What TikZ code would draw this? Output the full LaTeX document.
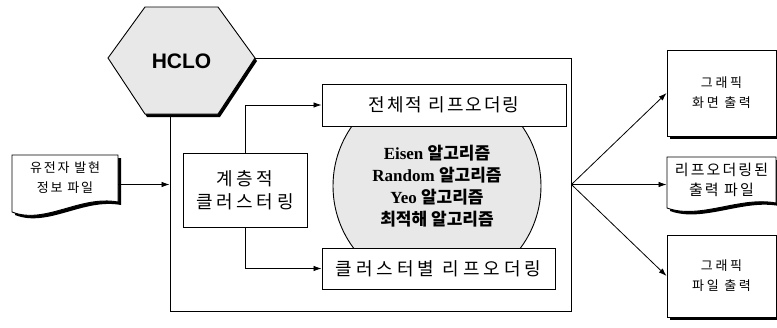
\documentclass[tikz,border=0pt]{standalone}
\usepackage{fontspec}
\setmainfont{Liberation Serif}
\newfontfamily\kr{Noto Sans CJK KR}
\newfontfamily\hfont{Liberation Sans}
\usetikzlibrary{arrows.meta}
\newcommand{\ls}[1]{\addfontfeature{LetterSpace=#1}}
\begin{document}
\begin{tikzpicture}[x=1pt,y=-1pt,line width=0.9pt,
  arr/.style={-{Latex[length=8pt,width=5.5pt]},line width=0.8pt},
  box/.style={draw,fill=white,inner sep=0pt,align=center},
  shadowfill/.style={fill=black},
  gfill/.style={fill=black!9}]
\useasboundingbox (0,0) rectangle (777,327);

% big frame
\node[draw,inner sep=0pt,minimum width=401pt,minimum height=253pt] (big) at (370.5,184.5) {};

% circle segment
\begin{scope}
\clip (300,126) rectangle (600,249);
\draw[gfill] (437,186) circle [radius=104];
\end{scope}
\node[align=center,font=\fontsize{17}{22}\selectfont] (alg) at (437,186)
  {\bfseries Eisen {\kr\bfseries 알고리즘}\\
   \bfseries Random {\kr\bfseries 알고리즘}\\
   \bfseries Yeo {\kr\bfseries 알고리즘}\\
   {\kr\bfseries 최적해 알고리즘}};

% inner boxes
\node[box,minimum width=244pt,minimum height=42pt,font=\kr\fontsize{18}{22}\selectfont\ls{11}] (tb) at (444,105) {전체적 리프오더링};
\node[box,minimum width=233pt,minimum height=41pt,font=\kr\fontsize{18}{22}\selectfont\ls{22}] (bb) at (438.5,268.5) {클러스터별 리프오더링};
\node[box,minimum width=124pt,minimum height=74pt,font=\kr\fontsize{18}{23}\selectfont\ls{20}] (lb) at (245,190) {계층적\\클러스터링};

\draw[arr] (lb.north) |- (tb.west);
\draw[arr] (lb.south) |- (bb.west);

% hexagon
\fill[shadowfill,shift={(2,3)}] (108,58)--(145,7)--(218,7)--(255,58)--(218,114)--(145,114)--cycle;
\draw[gfill] (108,58)--(145,7)--(218,7)--(255,58)--(218,114)--(145,114)--cycle;
\node[font=\hfont\bfseries\fontsize{21}{24}\selectfont] (hclo) at (181.5,61) {HCLO};

% input document
\fill[shadowfill,shift={(3,3)}] (12,155)--(118,155)--(118,202) .. controls (80,195) and (45,225) .. (12,212)--cycle;
\draw[fill=white] (12,155)--(118,155)--(118,202) .. controls (80,195) and (45,225) .. (12,212)--cycle;
\node[align=center,inner sep=0pt,minimum width=106pt,font=\kr\fontsize{13}{20}\selectfont\ls{14}] (in) at (65,178) {유전자 발현\\정보 파일};
\draw[arr] (in.east |- big.west) -- (big.west);

% output boxes
\fill[shadowfill] (670,53) rectangle (779,139);
\node[box,minimum width=109pt,minimum height=86pt,font=\kr\fontsize{13}{20}\selectfont\ls{20}] (r1) at (721.5,93) {그래픽\\화면 출력};
\fill[shadowfill] (670,238) rectangle (779,320);
\node[box,minimum width=109pt,minimum height=82pt,font=\kr\fontsize{13}{20}\selectfont\ls{20}] (r3) at (721.5,276) {그래픽\\파일 출력};

% output document
\fill[shadowfill,shift={(3,3)}] (667,157)--(776,157)--(776,203) .. controls (740,196) and (700,220) .. (667,208)--cycle;
\draw[fill=white] (667,157)--(776,157)--(776,203) .. controls (740,196) and (700,220) .. (667,208)--cycle;
\node[align=center,inner sep=0pt,minimum width=109pt,font=\kr\fontsize{15}{20}\selectfont\ls{14}] (r2) at (721.5,180) {리프오더링된\\출력 파일};

\draw[arr] (big.east) -- (r1.west);
\draw[arr] (big.east) -- (r2.west |- big.east);
\draw[arr] (big.east) -- (r3.west);
\end{tikzpicture}
\end{document}
